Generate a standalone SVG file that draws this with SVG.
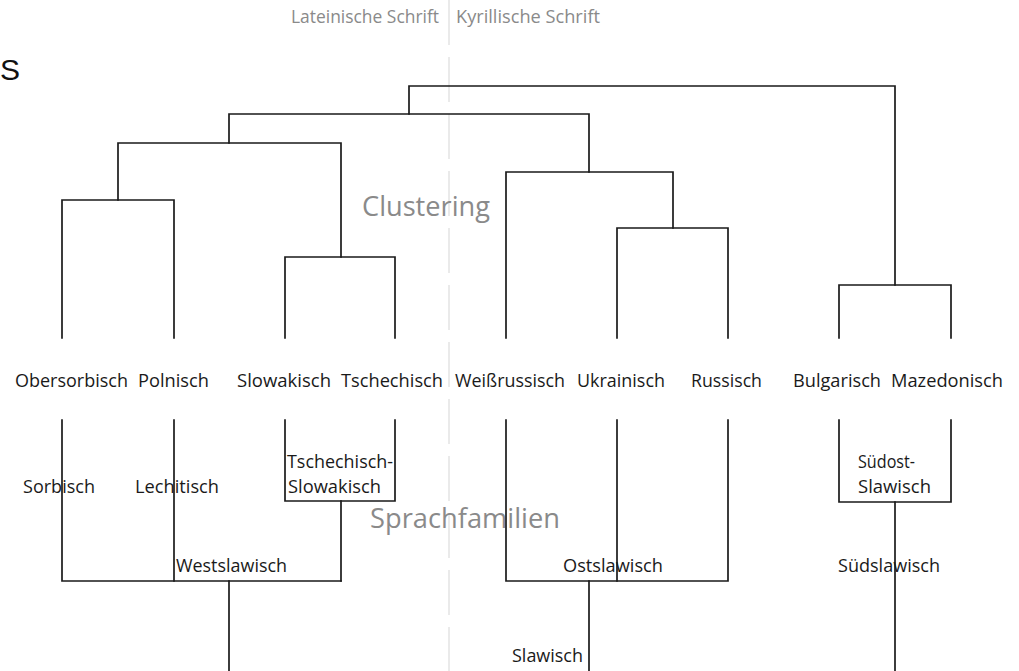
<svg xmlns="http://www.w3.org/2000/svg" width="1019" height="671" viewBox="0 0 1019 671">
<style>
.ln{fill:none;stroke:#1a1a1a;stroke-width:1.7;stroke-linecap:square}
.lbl{font-family:"Open Sans","DejaVu Sans",sans-serif;font-size:18px;fill:#1a1a1a}
.gray{font-family:"Open Sans","DejaVu Sans",sans-serif;fill:#8a8a8a}
.div{stroke:#dcdcdc;stroke-width:1.2;stroke-dasharray:45 12}
</style>
<rect width="1019" height="671" fill="#fff"/>
<line class="div" x1="449" y1="0" x2="449" y2="671"/>
<text x="0" y="80" font-family="Liberation Sans, Arial, sans-serif" font-size="30" fill="#111">S</text>
<g id="headings">
<text class="gray" x="291" y="23" font-size="18" textLength="148" lengthAdjust="spacingAndGlyphs">Lateinische Schrift</text>
<text class="gray" x="456" y="23" font-size="18" textLength="144" lengthAdjust="spacingAndGlyphs">Kyrillische Schrift</text>
<text class="gray" x="362" y="216" font-size="27" textLength="128" lengthAdjust="spacingAndGlyphs">Clustering</text>
<text class="gray" x="370" y="528" font-size="27" textLength="190" lengthAdjust="spacingAndGlyphs">Sprachfamilien</text>
</g>
<g id="connectors">
<path class="ln" d="M409 114V86H895V285"/>
<path class="ln" d="M229 143V114H589V172"/>
<path class="ln" d="M118 200V143H341V257"/>
<path class="ln" d="M62 338V200H174V338"/>
<path class="ln" d="M285 338V257H395V338"/>
<path class="ln" d="M506 338V172H673V228"/>
<path class="ln" d="M617 338V228H728V338"/>
<path class="ln" d="M839 338V285H951V338"/>
<path class="ln" d="M285 420V501H395V420"/>
<path class="ln" d="M341 501V581"/>
<path class="ln" d="M62 420V581H341"/>
<path class="ln" d="M174 420V581"/>
<path class="ln" d="M229 581V671"/>
<path class="ln" d="M506 420V581H728V420"/>
<path class="ln" d="M617 420V581"/>
<path class="ln" d="M589 581V671"/>
<path class="ln" d="M839 420V502H951V420"/>
<path class="ln" d="M895 502V671"/>
</g>
<g id="languages">
<g id="n-obersorbisch"><text class="lbl" x="15" y="387" textLength="113" lengthAdjust="spacingAndGlyphs">Obersorbisch</text></g>
<g id="n-polnisch"><text class="lbl" x="138" y="387" textLength="71" lengthAdjust="spacingAndGlyphs">Polnisch</text></g>
<g id="n-slowakisch"><text class="lbl" x="237" y="387" textLength="94" lengthAdjust="spacingAndGlyphs">Slowakisch</text></g>
<g id="n-tschechisch"><text class="lbl" x="341" y="387" textLength="102" lengthAdjust="spacingAndGlyphs">Tschechisch</text></g>
<g id="n-weissrussisch"><text class="lbl" x="455" y="387" textLength="110" lengthAdjust="spacingAndGlyphs">Weißrussisch</text></g>
<g id="n-ukrainisch"><text class="lbl" x="577" y="387" textLength="88" lengthAdjust="spacingAndGlyphs">Ukrainisch</text></g>
<g id="n-russisch"><text class="lbl" x="691" y="387" textLength="71" lengthAdjust="spacingAndGlyphs">Russisch</text></g>
<g id="n-bulgarisch"><text class="lbl" x="793" y="387" textLength="88" lengthAdjust="spacingAndGlyphs">Bulgarisch</text></g>
<g id="n-mazedonisch"><text class="lbl" x="891" y="387" textLength="112" lengthAdjust="spacingAndGlyphs">Mazedonisch</text></g>
</g>
<g id="families">
<g id="n-sorbisch"><text class="lbl" x="23" y="493" textLength="72" lengthAdjust="spacingAndGlyphs">Sorbisch</text></g>
<g id="n-lechitisch"><text class="lbl" x="135" y="493" textLength="84" lengthAdjust="spacingAndGlyphs">Lechitisch</text></g>
<g id="n-tschslow"><text class="lbl" x="287" y="468" textLength="106" lengthAdjust="spacingAndGlyphs">Tschechisch-</text><text class="lbl" x="288" y="493" textLength="93" lengthAdjust="spacingAndGlyphs">Slowakisch</text></g>
<g id="n-westslawisch"><text class="lbl" x="176" y="572" textLength="111" lengthAdjust="spacingAndGlyphs">Westslawisch</text></g>
<g id="n-ostslawisch"><text class="lbl" x="563" y="572" textLength="100" lengthAdjust="spacingAndGlyphs">Ostslawisch</text></g>
<g id="n-suedost"><text class="lbl" x="858" y="468" textLength="57" lengthAdjust="spacingAndGlyphs">Südost-</text><text class="lbl" x="858" y="493" textLength="73" lengthAdjust="spacingAndGlyphs">Slawisch</text></g>
<g id="n-suedslawisch"><text class="lbl" x="838" y="572" textLength="102" lengthAdjust="spacingAndGlyphs">Südslawisch</text></g>
<g id="n-slawisch"><text class="lbl" x="512" y="662" textLength="71" lengthAdjust="spacingAndGlyphs">Slawisch</text></g>
</g>
</svg>
